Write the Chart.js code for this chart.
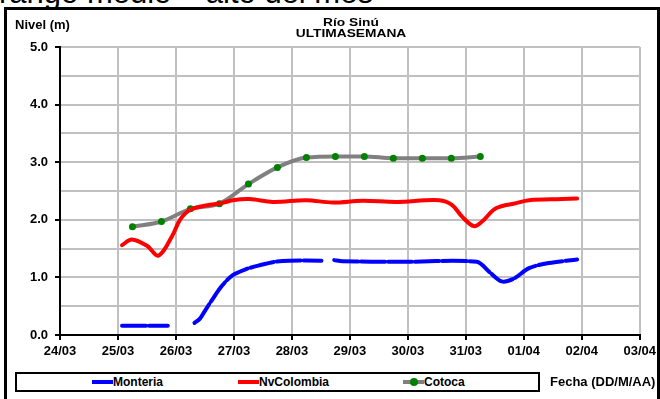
<!DOCTYPE html>
<html>
<head>
<meta charset="utf-8">
<script src="https://cdn.jsdelivr.net/npm/chart.js@4.4.1/dist/chart.umd.min.js"></script>
<style>
  body { margin:0; width:660px; height:399px; overflow:hidden; background:#fff; position:relative;
         font-family:"Liberation Sans", Arial, sans-serif; }
  .topText { position:absolute; left:-1px; top:-23px; font-size:31px; line-height:31px; color:#000; white-space:nowrap; }
  .frame { position:absolute; left:4px; top:7px; width:650px; height:420px; border:3px solid #000; }
  canvas { position:absolute; left:0; top:0; }
  .lbl { position:absolute; font-weight:bold; color:#000; white-space:nowrap; }
  .legend { position:absolute; left:15px; top:372px; width:521px; height:16px; border:2px solid #000; background:#fff; }
  .item { position:absolute; top:1px; font-size:12px; font-weight:bold; line-height:14px; }
  .sw { display:inline-block; width:21px; height:4px; vertical-align:middle; margin-top:-2px; position:relative; }
  .dot { position:absolute; left:7px; top:-2px; width:8px; height:8px; border-radius:50%; background:#008000; }
</style>
</head>
<body>
<div class="topText">rango medio – alto del mes</div>
<div class="frame"></div>
<canvas id="myChart" width="660" height="399"></canvas>
<div class="lbl" style="left:15px;top:17px;font-size:13px;">Nivel (m)</div>
<div class="lbl" style="left:351px;top:17px;font-size:11px;line-height:11px;transform:translateX(-50%) scaleX(1.25);text-align:center;">Río Sinú<br>ULTIMASEMANA</div>
<div class="legend">
  <div class="item" style="left:75px;"><span class="sw" style="background:#0000ff"></span>Monteria</div>
  <div class="item" style="left:221px;"><span class="sw" style="background:#ff0000"></span>NvColombia</div>
  <div class="item" style="left:386px;"><span class="sw" style="background:#808080"><span class="dot"></span></span>Cotoca</div>
</div>
<div class="lbl" style="left:550px;top:374px;font-size:13px;">Fecha (DD/M/AA)</div>
<script>
// fechas del eje x (dias desde 24/03)
var fechas = ['24/03','25/03','26/03','27/03','28/03','29/03','30/03','31/03','01/04','02/04','03/04'];

// Monteria (null = sin dato)
var monteriaX = [1.07, 1.86, 2.10, 2.32, 2.41, 2.50, 2.63, 2.79, 2.98, 3.20, 3.44, 3.70, 3.96, 4.51, 4.62, 4.73, 4.87, 5.85, 7.19, 7.40, 7.62, 7.83, 8.09, 8.43, 8.92];
var monteriaY = [0.16, 0.16, null, 0.21, 0.28, 0.42, 0.62, 0.85, 1.04, 1.14, 1.21, 1.27, 1.29, 1.29, null, 1.30, 1.28, 1.27, 1.27, 1.10, 0.93, 0.98, 1.16, 1.25, 1.31];

// NvColombia
var colombiaX = [1.07, 1.24, 1.50, 1.70, 1.93, 2.07, 2.24, 2.58, 2.79, 2.98, 3.27, 3.67, 4.25, 4.70, 5.22, 5.80, 6.54, 6.76, 6.94, 7.14, 7.28, 7.52, 7.87, 8.09, 8.66, 8.92];
var colombiaY = [1.56, 1.66, 1.55, 1.38, 1.71, 2.00, 2.17, 2.26, 2.29, 2.34, 2.36, 2.31, 2.34, 2.30, 2.33, 2.31, 2.34, 2.26, 2.05, 1.89, 1.97, 2.20, 2.29, 2.34, 2.36, 2.37];

// Cotoca
var cotocaX = [1.25, 1.75, 2.25, 2.75, 3.25, 3.75, 4.25, 4.75, 5.25, 5.75, 6.25, 6.75, 7.25];
var cotocaY = [1.88, 1.97, 2.19, 2.28, 2.62, 2.91, 3.08, 3.10, 3.10, 3.07, 3.07, 3.07, 3.10];

function puntos(xs, ys){
  var out = [];
  for (var i = 0; i < xs.length; i++) out.push({x: xs[i], y: ys[i]});
  return out;
}

var fuente = {family: '"Liberation Sans", Arial, sans-serif', size: 13, weight: 'bold'};

var ctx = document.getElementById('myChart').getContext('2d');
var chart = new Chart(ctx, {
  type: 'line',
  data: {
    datasets: [
      {label: 'Monteria', data: puntos(monteriaX, monteriaY), borderColor: '#0000ff', borderWidth: 4,
       pointRadius: 0, tension: 0.3, spanGaps: false, borderDash: [24, 3], borderCapStyle: 'round'},
      {label: 'NvColombia', data: puntos(colombiaX, colombiaY), borderColor: '#ff0000', borderWidth: 4,
       pointRadius: 0, tension: 0.35, borderCapStyle: 'round'},
      {label: 'Cotoca', data: puntos(cotocaX, cotocaY), borderColor: '#808080', borderWidth: 4,
       pointRadius: 3.5, pointBackgroundColor: '#008000', pointBorderColor: '#008000', pointBorderWidth: 0,
       cubicInterpolationMode: 'monotone', borderCapStyle: 'round'}
    ]
  },
  options: {
    responsive: false,
    animation: false,
    layout: {padding: {left: 0, top: 47, right: 19, bottom: 0}},
    plugins: {legend: {display: false}, tooltip: {enabled: false}},
    scales: {
      x: {
        type: 'linear', min: 0, max: 10,
        afterFit: function(s){ s.height = 64; },
        border: {color: '#000', width: 2},
        grid: {color: '#c0c0c0', lineWidth: 2, tickLength: 5, tickColor: '#000'},
        ticks: {stepSize: 1, padding: 4, color: '#000', font: fuente, maxRotation: 0,
                callback: function(v){ return fechas[v]; }}
      },
      y: {
        min: 0, max: 5,
        afterFit: function(s){ s.width = 60; },
        border: {color: '#000', width: 2},
        grid: {color: '#c0c0c0', lineWidth: 2, tickLength: 5,
               tickColor: function(c){ return c.tick && c.tick.value % 1 === 0 ? '#000' : 'rgba(0,0,0,0)'; }},
        ticks: {stepSize: 0.5, padding: 7, color: '#000', font: fuente,
                callback: function(v){ return v % 1 === 0 ? v.toFixed(1) : ''; }}
      }
    }
  }
});
</script>
</body>
</html>
